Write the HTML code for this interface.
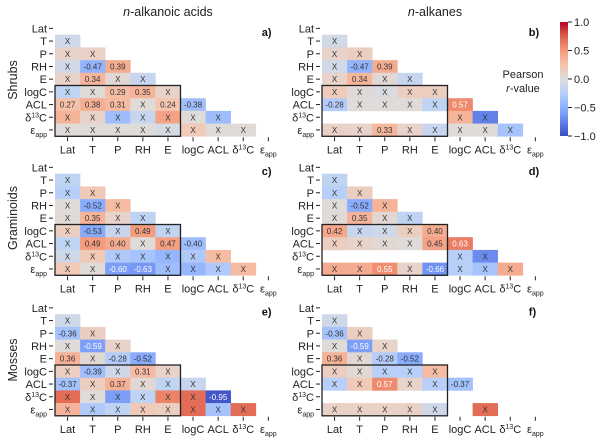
<!DOCTYPE html>
<html><head><meta charset="utf-8"><style>
html,body{margin:0;padding:0;background:#fff;}
svg{display:block;font-family:"Liberation Sans",sans-serif;}
</style></head><body>
<svg id="c" width="600" height="441" viewBox="0 0 600 441"></svg>
<script>
const variables = ["Lat","T","P","RH","E","logC","ACL","δ13C","εapp"];
// lower-triangle values per panel; rows T..εapp
const panelA = [[-0.1],[0.1,0.12],[-0.08,-0.47,0.39],[0.1,0.34,0.05,-0.15],[-0.2,0.03,0.29,0.35,0.1],[0.27,0.38,0.31,0.02,0.24,-0.38],[0.35,0.1,-0.4,-0.15,0.45,0.02,-0.4],[0.02,0.02,0.02,0.02,-0.05,0.2,0.02,0.03]];
const sigA = [[0],[0,0],[0,1,1],[0,1,0,0],[0,0,1,1,0],[1,1,1,0,1,1],[0,0,0,0,0,0,0],[0,0,0,0,0,0,0,0]];
const panelB = [[-0.08],[0.1,0.15],[-0.08,-0.47,0.39],[0.1,0.34,0.05,-0.15],[0.18,0.03,-0.03,0.15,0.15],[-0.28,0.02,0.02,0.02,-0.2,0.57],[null,null,null,null,null,0.35,-0.75],[0.12,0.1,0.33,0.1,-0.15,0.02,0.02,-0.35]];
const sigB = [[0],[0,0],[0,1,1],[0,1,0,0],[0,0,0,0,0],[1,0,0,0,0,1],[0,0,0,0,0,0,0],[0,0,1,0,0,0,0,0]];
const panelC = [[-0.2],[-0.25,0.2],[0.02,-0.52,0.3],[0.03,0.35,0.1,-0.2],[0.15,-0.53,-0.15,0.49,-0.2],[-0.2,0.49,0.40,0.02,0.47,-0.40],[-0.1,0.2,-0.3,-0.35,-0.45,-0.3,0.3],[0.2,0.03,-0.60,-0.63,-0.4,-0.45,-0.3,0.3]];
const sigC = [[0],[0,0],[0,1,0],[0,1,0,0],[0,1,0,1,0],[0,1,1,0,1,1],[0,0,0,0,0,0,0],[0,0,1,1,0,0,0,0]];
const panelD = [[-0.2],[-0.25,0.15],[0.02,-0.52,0.35],[0.03,0.35,0.05,-0.2],[0.42,-0.15,-0.1,0.15,0.40],[0.15,0.1,0.05,0.02,0.45,0.63],[null,null,null,null,null,-0.25,-0.7],[0.4,0.4,0.55,0.1,-0.66,-0.25,-0.35,0.4]];
const sigD = [[0],[0,0],[0,1,0],[0,1,0,0],[1,0,0,0,1],[0,0,0,0,1,1],[0,0,0,0,0,0,0],[0,0,1,0,1,0,0,0]];
const panelE = [[-0.1],[-0.36,0.15],[0.02,-0.59,0.1],[0.36,0.05,-0.28,-0.52],[0.15,-0.39,-0.1,0.31,0.1],[-0.37,0.15,0.37,0.05,-0.2,-0.15],[0.7,0.02,-0.6,-0.2,0.6,0.7,-0.95],[0.35,-0.3,-0.2,0.2,0.15,0.7,-0.35,0.7]];
const sigE = [[0],[1,0],[0,1,0],[1,0,1,1],[0,1,0,1,0],[1,0,1,0,0,0],[0,0,0,0,0,0,1],[0,0,0,0,0,0,0,0]];
const panelF = [[-0.1],[-0.36,0.15],[0.02,-0.59,0.1],[0.36,0.05,-0.28,-0.52],[0.15,0.05,-0.25,-0.25,0.3],[-0.25,0.2,0.57,0.1,-0.25,-0.37],[null,null,null,null,null,null,null],[0.12,0.12,0.12,0.12,-0.1,null,0.7,null]];
const sigF = [[0],[1,0],[0,1,0],[1,0,1,1],[0,0,0,0,0],[0,0,1,0,0,1],[0,0,0,0,0,0,0],[0,0,0,0,0,0,0,0]];
const colorbarTicks = [1.0,0.5,0.0,-0.5,-1.0];

const NS="http://www.w3.org/2000/svg";
const svg=document.getElementById('c');
function mk(tag,attrs,parent,text){const e=document.createElementNS(NS,tag);for(const k in attrs)e.setAttribute(k,attrs[k]);if(text!==undefined)e.textContent=text;(parent||svg).appendChild(e);return e;}
const stops=[[59,76,192],[98,130,234],[141,176,254],[184,208,249],[221,221,221],[245,196,173],[244,154,123],[222,96,77],[180,4,38]];
function cmap(v){let t=(Math.max(-1,Math.min(1,v))+1)/2*8;let i=Math.min(7,Math.floor(t));let f=t-i;const a=stops[i],b=stops[i+1];return `rgb(${a.map((x,k)=>Math.round(x+(b[k]-x)*f)).join(',')})`;}
const CW=25.1, CH=12.7;
function label(parent,x,y,name,anchor){
  const t=mk('text',{x:x,y:y,'font-size':11,'text-anchor':anchor,fill:'#222'},parent);
  
  
  if(name==='δ13C'){t.textContent='δ';mk('tspan',{'font-size':7,dy:-4},t,'13');mk('tspan',{dy:4},t,'C');}
  else if(name==='εapp'){t.textContent='ε';mk('tspan',{'font-size':7,dy:3},t,'app');}
  else t.textContent=name;
}
function panel(vals,sig,x0,y0,letter,id){
  const g=mk('g',{});
  
  
  const X=i=>x0+i*CW, Y=i=>y0+i*CH;
  vals.forEach((row,r)=>{row.forEach((v,c)=>{
    if(v===null)return;
    const rr=r+1;
    const rect=mk('rect',{x:X(c),y:Y(rr),width:CW+0.3,height:CH+0.3,fill:cmap(v)},g);
    
    
    const s=sig[r][c];
    const txt=s?v.toFixed(2):'X';
    const t=mk('text',{x:X(c)+CW/2,y:Y(rr)+CH/2+3,'font-size':8,'text-anchor':'middle',fill:(s&&Math.abs(v)>=0.55)?'#fff':'#333'},g,txt);
    
    
  });});
  variables.forEach((n,i)=>{
    mk('line',{x1:x0-6,x2:x0-2,y1:Y(i)+CH/2,y2:Y(i)+CH/2,stroke:'#222','stroke-width':1},g);
    label(g,x0-8,Y(i)+CH/2+4,n,'end');
    mk('line',{x1:X(i)+CW/2,x2:X(i)+CW/2,y1:Y(9)+1,y2:Y(9)+5,stroke:'#222','stroke-width':1},g);
    label(g,X(i)+CW/2,Y(9)+17,n,'middle');
  });
  const box=mk('rect',{x:X(0),y:Y(5),width:5*CW,height:4*CH,fill:'none',stroke:'#222','stroke-width':1.3},g);
  
  
  const L=mk('text',{x:X(8)+6,y:y0+14,'font-size':11,'font-weight':'bold',fill:'#111'},g,letter);
  
  
}
panel(panelA,sigA,55,22,'a)','a');
panel(panelB,sigB,322,22,'b)','b');
panel(panelC,sigC,55,161,'c)','c');
panel(panelD,sigD,322,161,'d)','d');
panel(panelE,sigE,55,301.5,'e)','e');
panel(panelF,sigF,322,301.5,'f)','f');
</script>
<svg style="position:absolute;left:0;top:0" width="600" height="441">
<text x="168" y="16" font-size="12.5" text-anchor="middle" fill="#222"><tspan font-style="italic">n</tspan>-alkanoic acids</text>
<text x="435" y="16" font-size="12.5" text-anchor="middle" fill="#222"><tspan font-style="italic">n</tspan>-alkanes</text>
<text transform="translate(17,80) rotate(-90)" font-size="12.5" text-anchor="middle" fill="#222">Shrubs</text>
<text transform="translate(17,218) rotate(-90)" font-size="12.5" text-anchor="middle" fill="#222">Graminoids</text>
<text transform="translate(17,360) rotate(-90)" font-size="12.5" text-anchor="middle" fill="#222">Mosses</text>
<text x="523" y="78" font-size="11" text-anchor="middle" fill="#222">Pearson</text>
<text x="523" y="92" font-size="11" text-anchor="middle" fill="#222"><tspan font-style="italic">r</tspan>-value</text>
<defs><linearGradient id="cb" x1="0" y1="1" x2="0" y2="0">
<stop offset="0" stop-color="rgb(59,76,192)"/><stop offset="0.125" stop-color="rgb(98,130,234)"/><stop offset="0.25" stop-color="rgb(141,176,254)"/><stop offset="0.375" stop-color="rgb(184,208,249)"/><stop offset="0.5" stop-color="rgb(221,221,221)"/><stop offset="0.625" stop-color="rgb(245,196,173)"/><stop offset="0.75" stop-color="rgb(244,154,123)"/><stop offset="0.875" stop-color="rgb(222,96,77)"/><stop offset="1" stop-color="rgb(180,4,38)"/>
</linearGradient></defs>
<rect x="560" y="22" width="8" height="114" fill="url(#cb)"/>
<g id="cbt"></g>
</svg>
<script>
const cbt=document.getElementById('cbt');
colorbarTicks.forEach(v=>{
  const y=22+(1-(v+1)/2)*114;
  const l=document.createElementNS(NS,'line');
  l.setAttribute('x1',568);l.setAttribute('x2',572);l.setAttribute('y1',y);l.setAttribute('y2',y);l.setAttribute('stroke','#222');
  
  
  cbt.appendChild(l);
  const t=document.createElementNS(NS,'text');
  t.setAttribute('x',574);t.setAttribute('y',y+4);t.setAttribute('font-size',11);t.setAttribute('fill','#222');
  t.setAttribute('font-family','Liberation Sans, sans-serif');
  t.textContent=(v<0?'−':'')+Math.abs(v).toFixed(1);
  
  
  cbt.appendChild(t);
});
</script>
</body></html>
